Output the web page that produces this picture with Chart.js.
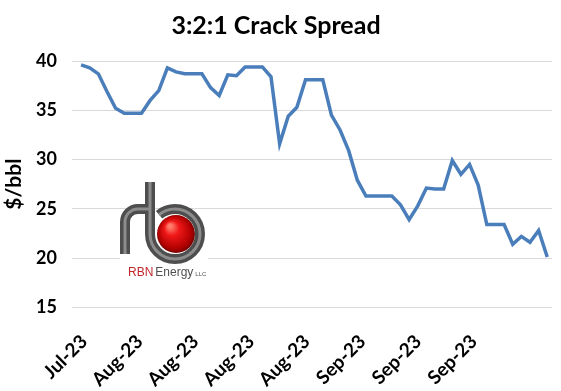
<!DOCTYPE html>
<html>
<head>
<meta charset="utf-8">
<script src="https://cdn.jsdelivr.net/npm/chart.js@4.4.0/dist/chart.umd.min.js"></script>
<style>
  html, body { margin: 0; padding: 0; background: #fff; }
  #wrap { position: relative; width: 561px; height: 391px; }
</style>
</head>
<body>
<div id="wrap"><canvas id="chart"></canvas></div>
<script>
// 3:2:1 crack spread, one value per day ($/bbl)
const spread = [39.6, 39.3, 38.7, 36.9, 35.2, 34.7, 34.7, 34.7, 36.0, 37.0,
  39.3, 38.9, 38.7, 38.7, 38.7, 37.3, 36.5, 38.6, 38.5, 39.4,
  39.4, 39.4, 38.4, 31.6, 34.4, 35.3, 38.1, 38.1, 38.1, 34.5,
  33.0, 30.9, 27.9, 26.3, 26.3, 26.3, 26.3, 25.4, 23.9, 25.3,
  27.1, 27.0, 27.0, 29.9, 28.5, 29.5, 27.4, 23.4, 23.4, 23.4,
  21.4, 22.2, 21.6, 22.8, 20.1];

// x-axis labels and the day (from the first point) each one sits on
const tickLabels = ['Jul-23', 'Aug-23', 'Aug-23', 'Aug-23', 'Aug-23', 'Sep-23', 'Sep-23', 'Sep-23'];
const tickDays = [0.35, 6.8, 13.25, 19.7, 26.15, 32.6, 39.05, 45.5];

const yMin = 15;
const yMax = 40;
const yStep = 5;

const FONT = 'Lato';

// RBN Energy logo, drawn on top of the plot
const logoPlugin = {
  id: 'rbnLogo',
  afterDatasetsDraw(chart) {
    const ctx = chart.ctx;
    ctx.save();

    ctx.fillStyle = '#fff';
    ctx.fillRect(120, 252, 88, 30);

    // red ball
    const g = ctx.createRadialGradient(170, 226, 2, 176, 234, 20);
    g.addColorStop(0, '#ff7a6a');
    g.addColorStop(0.3, '#f01818');
    g.addColorStop(0.8, '#b00000');
    g.addColorStop(1, '#6a0000');
    ctx.fillStyle = g;
    ctx.beginPath();
    ctx.arc(176, 234, 19, 0, Math.PI * 2);
    ctx.fill();

    // grey pipe: "r" arch, stem and bowl of the "b"
    const pipe = () => {
      ctx.beginPath();
      ctx.moveTo(125, 254);
      ctx.lineTo(125, 222);
      ctx.arc(138, 222, 13, Math.PI, Math.PI * 1.5);
      ctx.lineTo(150, 209);
      ctx.moveTo(150, 182);
      ctx.lineTo(150, 234);
      ctx.arc(175, 234, 25, Math.PI, -Math.PI * 0.72, true);
      ctx.stroke();
    };
    ctx.lineCap = 'butt';
    ctx.lineJoin = 'round';
    ctx.strokeStyle = '#4e4e4e';
    ctx.lineWidth = 10;
    pipe();
    ctx.strokeStyle = '#8c8c8c';
    ctx.lineWidth = 3;
    pipe();

    // wordmark
    ctx.textBaseline = 'alphabetic';
    ctx.textAlign = 'left';
    ctx.font = '12px "Liberation Sans"';
    ctx.fillStyle = '#c1272d';
    ctx.fillText('RBN', 128, 276);
    let x = 128 + ctx.measureText('RBN').width + 2;
    ctx.fillStyle = '#505050';
    ctx.fillText('Energy', x, 276);
    x += ctx.measureText('Energy').width + 2;
    ctx.font = '6px "Liberation Sans"';
    ctx.fillText('LLC', x, 276);
    ctx.restore();
  }
};

new Chart(document.getElementById('chart'), {
  type: 'line',
  data: {
    datasets: [{
      label: '3:2:1 Crack Spread',
      data: spread.map((v, i) => ({ x: i, y: v })),
      borderColor: '#4a7ebb',
      borderWidth: 3.5,
      pointRadius: 0,
      tension: 0,
      fill: false
    }]
  },
  plugins: [logoPlugin],
  options: {
    responsive: true,
    maintainAspectRatio: false,
    animation: false,
    layout: { padding: { left: 0, right: 9, top: 0, bottom: 0 } },
    plugins: {
      legend: { display: false },
      tooltip: { enabled: false },
      title: {
        display: true,
        text: '3:2:1 Crack Spread',
        color: '#000',
        font: { family: FONT, size: 25, weight: 'bold' },
        padding: { top: 11, bottom: 20 }
      }
    },
    scales: {
      x: {
        type: 'linear',
        min: -1.05,
        max: 54.55,
        grid: { display: false },
        border: { display: false },
        afterBuildTicks: (axis) => {
          axis.ticks = tickDays.map(v => ({ value: v }));
        },
        afterFit: (scale) => { scale.height = 83.7; },
        ticks: {
          autoSkip: false,
          minRotation: 45,
          maxRotation: 45,
          padding: 15,
          color: '#000',
          font: { family: FONT, size: 19, weight: 'bold' },
          callback: (v, i) => tickLabels[i]
        }
      },
      y: {
        min: yMin,
        max: yMax,
        grid: { color: '#d9d9d9', lineWidth: 1, drawTicks: false },
        border: { display: false },
        afterFit: (scale) => { scale.width = 72; },
        ticks: {
          stepSize: yStep,
          padding: 15,
          color: '#000',
          font: { family: FONT, size: 18, weight: 'bold' }
        },
        title: {
          display: true,
          text: '$/bbl',
          color: '#000',
          font: { family: FONT, size: 21, weight: 'bold' },
          padding: { top: 2, bottom: 0 }
        }
      }
    }
  }
});
</script>
</body>
</html>
